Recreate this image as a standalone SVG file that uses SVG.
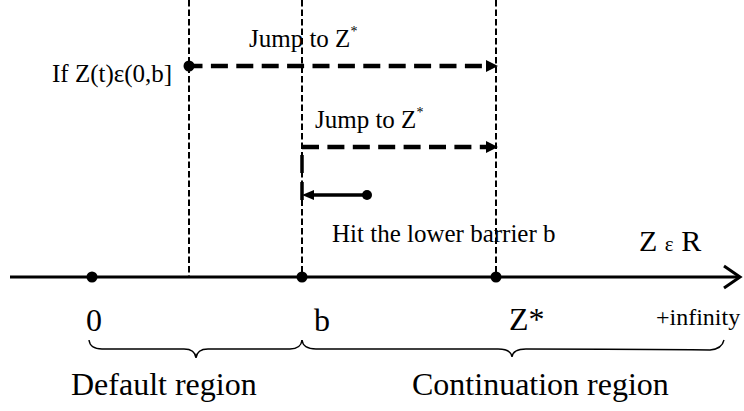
<svg xmlns="http://www.w3.org/2000/svg" width="744" height="411" viewBox="0 0 744 411">
<style>
  text { font-family: "Liberation Serif", "Times New Roman", serif; fill: #000; }
  .guide { fill: none; stroke: #000; stroke-width: 2; stroke-dasharray: 6.5 3; }
  .jump { fill: none; stroke: #000; stroke-width: 4.5; stroke-dasharray: 17 8.4; }
  .solid { fill: none; stroke: #000; stroke-width: 3.5; }
  .axis { fill: none; stroke: #000; stroke-width: 3; }
  .brace { fill: none; stroke: #000; stroke-width: 1.4; }
  .dot { fill: #000; }
  .f25 { font-size: 25px; }
  .f32 { font-size: 32px; }
</style>
<defs>
  <marker id="headBig" markerUnits="userSpaceOnUse" markerWidth="12" markerHeight="12" refX="0" refY="6" orient="auto">
    <path d="M0,0 L12,6 L0,12 z" fill="#000" stroke="none"/>
  </marker>
  <marker id="headSmall" markerUnits="userSpaceOnUse" markerWidth="12" markerHeight="10" refX="0" refY="5" orient="auto">
    <path d="M0,0 L12,5 L0,10 z" fill="#000" stroke="none"/>
  </marker>
</defs>
<rect x="0" y="0" width="744" height="411" fill="#fff"/>

<g id="axis">
  <path class="axis" d="M10 277 H738"/>
  <polyline class="axis" points="724,266 740,277 724,288"/>
</g>

<g id="guides">
  <path class="guide" d="M189 0 V277"/>
  <path class="guide" d="M302 0 V277"/>
  <path class="guide" d="M496 0 V277"/>
</g>

<g id="connectors">
  <path class="jump" d="M185.5 66 H486" marker-end="url(#headBig)"/>
  <path class="jump" d="M302 147 H486" marker-end="url(#headBig)"/>
  <path class="jump" d="M302 155 V203" style="stroke-width:3.5;stroke-dasharray:18 9"/>
  <path class="solid" d="M367 195 H314" marker-end="url(#headSmall)"/>
</g>

<g id="node-zero"><circle class="dot" cx="92" cy="277" r="5.5"/><text class="f32" x="86" y="331">0</text></g>
<g id="node-b"><circle class="dot" cx="302" cy="277" r="5.5"/><text class="f32" x="314" y="331">b</text></g>
<g id="node-zstar"><circle class="dot" cx="496" cy="277" r="5.5"/><text class="f32" x="509" y="330">Z*</text></g>
<g id="node-start"><circle class="dot" cx="189" cy="66" r="5.5"/><text class="f25" x="52" y="82">If Z(t)ε(0,b]</text></g>
<g id="node-hit"><circle class="dot" cx="367" cy="195" r="5"/><text class="f25" x="332" y="242">Hit the lower barrier b</text></g>

<g id="labels">
  <text class="f25" x="249" y="47">Jump to Z<tspan font-size="14" dy="-11">*</tspan></text>
  <text class="f25" x="315" y="128">Jump to Z<tspan font-size="14" dy="-11">*</tspan></text>
  <text x="639" y="251" font-size="30">Z <tspan font-size="21">ε</tspan> R</text>
  <text x="656" y="325" font-size="24">+infinity</text>
  <text class="f32" x="71" y="395">Default region</text>
  <text class="f32" x="412" y="395">Continuation region</text>
</g>

<g id="braces">
  <path class="brace" d="M89 340 Q90 349 102 349 H184 Q195 349 196 358 Q197 349 208 349 H290 Q301 349 302 340"/>
  <path class="brace" d="M302 340 Q303 349 316 349 H498 Q511 349 512 357 Q513 349 526 349 Q640 349 710 350 Q722 349 724 340"/>
</g>
</svg>
